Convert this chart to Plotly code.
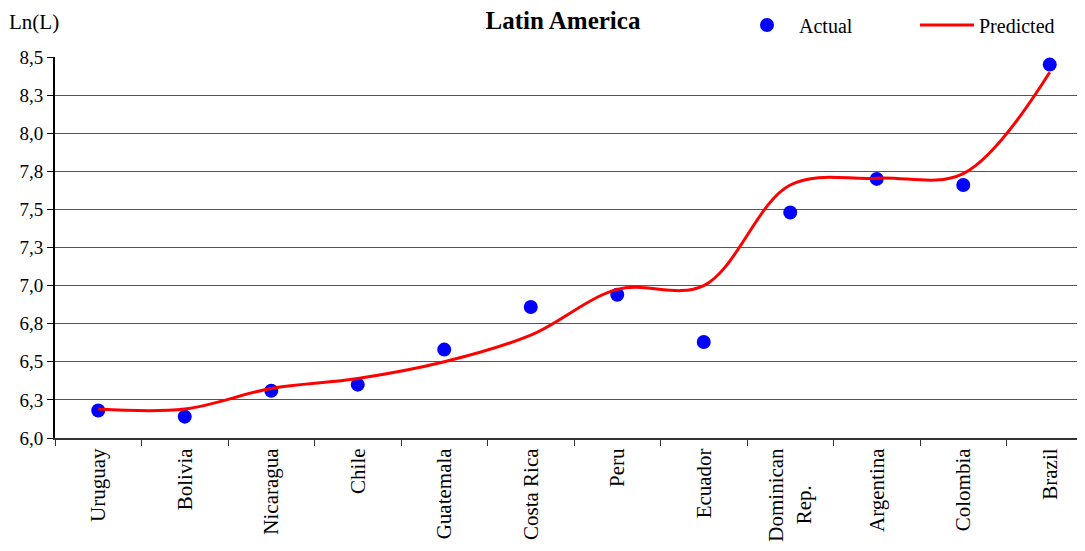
import plotly.graph_objects as go

countries = ["Uruguay", "Bolivia", "Nicaragua", "Chile", "Guatemala", "Costa Rica",
             "Peru", "Ecuador", "Dominican<br>Rep.\u00a0\u00a0\u00a0\u00a0\u00a0\u00a0\u00a0", "Argentina", "Colombia", "Brazil"]
actual = [6.18, 6.14, 6.31, 6.35, 6.58, 6.86, 6.94, 6.63, 7.48, 7.70, 7.66, 8.45]
predicted = [6.19, 6.19, 6.325, 6.39, 6.50, 6.675, 6.975, 7.00, 7.66, 7.705, 7.735, 8.40]

y_tickvals = [6.0, 6.25, 6.5, 6.75, 7.0, 7.25, 7.5, 7.75, 8.0, 8.25, 8.5]
y_ticktext = ["6,0", "6,3", "6,5", "6,8", "7,0", "7,3", "7,5", "7,8", "8,0", "8,3", "8,5"]

SERIF = "Liberation Serif, Times New Roman, serif"

# page body has an 8px margin: figure coords = screen coords - 8
OFF = 8
PLOT_L, PLOT_T, PLOT_B = 55 - OFF, 57 - OFF, 438 - OFF
PLOT_W = 1085 - PLOT_L
PLOT_H = PLOT_B - PLOT_T

fig = go.Figure()
fig.add_trace(go.Scatter(
    x=countries, y=actual, mode="markers", name="Actual",
    marker=dict(color="#0000FF", size=14),
))
fig.add_trace(go.Scatter(
    x=countries, y=predicted, mode="lines", name="Predicted",
    line=dict(color="#FF0000", width=3, shape="spline", smoothing=1),
))

fig.update_layout(
    width=1085, height=551,
    margin=dict(l=PLOT_L, r=0, t=PLOT_T, b=551 - PLOT_B, autoexpand=False),
    paper_bgcolor="white", plot_bgcolor="white",
    font=dict(family=SERIF, color="black", size=18),
    title=dict(text="<b>Latin America</b>", x=(563 - OFF) / 1085, xanchor="center",
               y=1, yanchor="top", xref="container", yref="container",
               pad=dict(t=3),
               font=dict(family=SERIF, size=25, color="black")),
    showlegend=True,
    legend=dict(orientation="h", x=(735 - 55) / PLOT_W, xanchor="left",
                y=(438 - 25) / PLOT_H, yanchor="middle",
                font=dict(family=SERIF, size=20, color="black"),
                itemwidth=54, entrywidth=111, entrywidthmode="pixels",
                bgcolor="rgba(0,0,0,0)", traceorder="normal"),
    xaxis=dict(
        type="category", range=[-0.5, 11.5], automargin=False,
        showline=True, linecolor="#333", linewidth=2,
        ticks="outside", tickson="boundaries", ticklen=6, tickcolor="#333", tickwidth=1,
        tickangle=-90, tickfont=dict(family=SERIF, size=21, color="black"),
        showgrid=False, zeroline=False,
    ),
    yaxis=dict(
        range=[6.0, 8.5], tickvals=y_tickvals, ticktext=y_ticktext, automargin=False,
        showline=True, linecolor="black", linewidth=2,
        ticks="outside", ticklen=6, tickcolor="black", tickwidth=1,
        tickfont=dict(family=SERIF, size=19, color="black"),
        showgrid=True, gridcolor="#555", gridwidth=1, zeroline=False,
    ),
)

fig.add_annotation(text="Ln(L)", xref="paper", yref="paper",
                   x=(34 - 55) / PLOT_W, y=(438 - 22) / PLOT_H,
                   xanchor="center", yanchor="middle", showarrow=False,
                   font=dict(family=SERIF, size=21, color="black"))

fig.write_html("out.html")
